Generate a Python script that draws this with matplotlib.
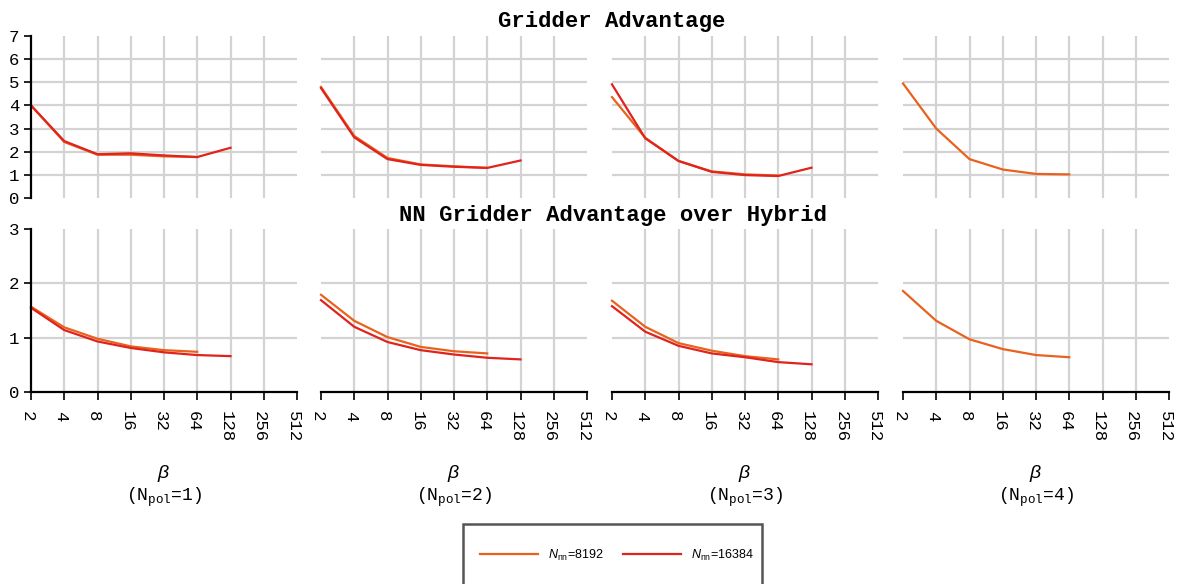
import matplotlib
matplotlib.use("Agg")
import matplotlib.pyplot as plt
from matplotlib.patches import Rectangle
from matplotlib.transforms import ScaledTranslation

plt.rcParams['font.family'] = ['Liberation Mono', 'DejaVu Sans Mono']
plt.rcParams['mathtext.fontset'] = 'custom'
plt.rcParams['mathtext.tt'] = 'Liberation Mono'
plt.rcParams['mathtext.it'] = 'Liberation Sans:italic'
plt.rcParams['mathtext.rm'] = 'Liberation Sans'

# beta values
beta_8192 = [2, 4, 8, 16, 32, 64]
beta_16384 = [2, 4, 8, 16, 32, 64, 128]
beta_ticks = [2, 4, 8, 16, 32, 64, 128, 256, 512]
npol = [1, 2, 3, 4]

# Gridder Advantage (top row), one list per N_pol
grid_8192 = [
    [4.0, 2.42, 1.87, 1.87, 1.80, 1.77],
    [4.80, 2.68, 1.73, 1.45, 1.37, 1.30],
    [4.36, 2.60, 1.60, 1.15, 1.02, 0.97],
    [4.95, 3.0, 1.68, 1.23, 1.04, 1.02],
]
grid_16384 = [
    [4.0, 2.46, 1.89, 1.93, 1.84, 1.77, 2.17],
    [4.75, 2.62, 1.68, 1.43, 1.35, 1.30, 1.62],
    [4.91, 2.58, 1.60, 1.13, 0.99, 0.95, 1.31],
    [],
]

# NN Gridder Advantage over Hybrid (bottom row)
nn_8192 = [
    [1.57, 1.19, 0.98, 0.84, 0.77, 0.74],
    [1.79, 1.31, 1.01, 0.83, 0.75, 0.71],
    [1.68, 1.20, 0.90, 0.76, 0.66, 0.60],
    [1.86, 1.31, 0.97, 0.79, 0.68, 0.64],
]
nn_16384 = [
    [1.55, 1.14, 0.93, 0.81, 0.73, 0.68, 0.66],
    [1.69, 1.20, 0.92, 0.77, 0.69, 0.63, 0.60],
    [1.58, 1.11, 0.85, 0.71, 0.64, 0.55, 0.51],
    [],
]

c_8192 = '#e8621e'
c_16384 = '#e0231c'
grid_c = '#d3d3d3'

W, H = 1183, 584
fig = plt.figure(figsize=(W / 100, H / 100), dpi=100)

lefts = [31, 321, 612, 903]
pw = 266


def setup(ax, first, bottom_row, ymax):
    ax.set_xscale('log', base=2)
    ax.set_xlim(2, 512)
    ax.set_ylim(0, ymax)
    ax.set_xticks(beta_ticks)
    ax.set_xticks([], minor=True)
    ax.set_yticks(range(0, ymax + 1))
    ax.grid(True, color=grid_c, linewidth=1.6)
    ax.set_axisbelow(True)
    for s in ['top', 'right']:
        ax.spines[s].set_visible(False)
    # no grid lines on the panel borders
    ax.xaxis.get_gridlines()[0].set_visible(False)
    ax.xaxis.get_gridlines()[-1].set_visible(False)
    ax.yaxis.get_gridlines()[0].set_visible(False)
    ax.yaxis.get_gridlines()[-1].set_visible(False)
    ax.tick_params(labelsize=12.5, color='black', width=1.2, length=5)
    if first:
        ax.spines['left'].set_linewidth(1.6)
        ax.spines['left'].set_color('black')
    else:
        ax.spines['left'].set_visible(False)
        ax.tick_params(axis='y', left=False, labelleft=False)
    if bottom_row:
        ax.spines['bottom'].set_linewidth(1.6)
        ax.spines['bottom'].set_color('black')
        ax.set_xticklabels([str(b) for b in beta_ticks], rotation=-90, va='top', ha='center')
        ax.tick_params(axis='x', length=6, pad=8)
        shift = ScaledTranslation(-4 / 100, 0, fig.dpi_scale_trans)
        for lab in ax.get_xticklabels():
            lab.set_transform(lab.get_transform() + shift)
    else:
        ax.spines['bottom'].set_visible(False)
        ax.tick_params(axis='x', bottom=False, labelbottom=False)


handles = []
for i in range(4):
    ax_t = fig.add_axes([lefts[i] / W, 1 - 198 / H, pw / W, 162 / H])
    ax_b = fig.add_axes([lefts[i] / W, 1 - 392 / H, pw / W, 163 / H])
    setup(ax_t, i == 0, False, 7)
    setup(ax_b, i == 0, True, 3)

    ax_t.plot(beta_8192, grid_8192[i], color=c_8192, lw=1.6, clip_on=False)
    if grid_16384[i]:
        ax_t.plot(beta_16384, grid_16384[i], color=c_16384, lw=1.6, clip_on=False)
    l1, = ax_b.plot(beta_8192, nn_8192[i], color=c_8192, lw=1.6, clip_on=False)
    if nn_16384[i]:
        l2, = ax_b.plot(beta_16384, nn_16384[i], color=c_16384, lw=1.6, clip_on=False)
        if i == 0:
            handles = [l1, l2]

    xc = (lefts[i] + pw / 2) / W
    fig.text(xc, 1 - 473 / H, r'$\beta$', ha='center', va='center', fontsize=14)
    fig.text(xc, 1 - 497 / H, '(N$_{\\mathtt{pol}}$=%d)' % npol[i], ha='center', va='center', fontsize=13)

fig.text(612 / W, 1 - 21 / H, 'Gridder Advantage', ha='center', va='center', fontsize=16, fontweight='bold')
fig.text(613 / W, 1 - 215 / H, 'NN Gridder Advantage over Hybrid', ha='center', va='center', fontsize=16, fontweight='bold')

# legend frame
fig.patches.append(Rectangle((463 / W, -0.05), 299 / W, 0.05 + (H - 524) / H,
                             transform=fig.transFigure, fill=False, edgecolor='#555555', linewidth=1.8))
fig.legend(handles, ['$N_{\\mathrm{nn}}$=8192', '$N_{\\mathrm{nn}}$=16384'],
           loc='center', bbox_to_anchor=(617 / W, 1 - 555 / H), ncol=2, frameon=False,
           prop={'family': 'Liberation Sans', 'size': 9}, handlelength=4.6, handletextpad=0.8,
           columnspacing=1.6)

fig.savefig('out.png', dpi=100)
